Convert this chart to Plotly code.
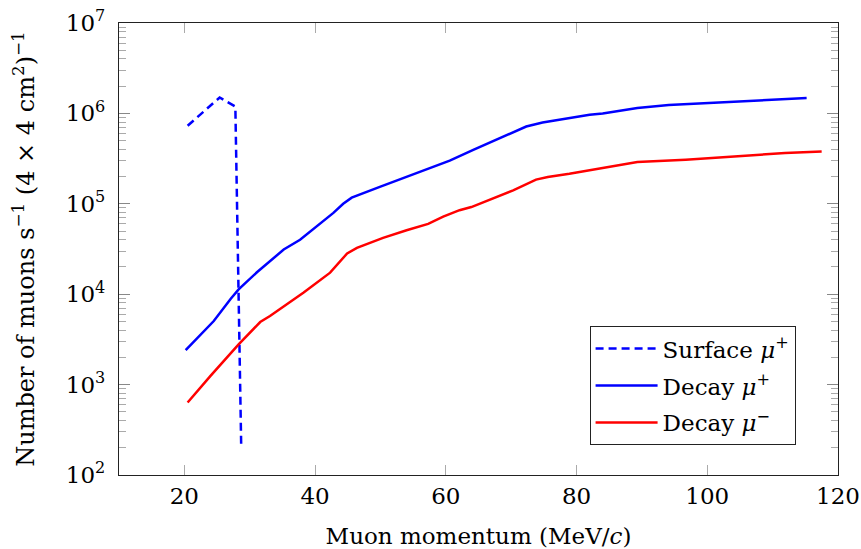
import plotly.graph_objects as go

# Surface muons (dashed)
surface_p = [20.5, 25.4, 27.8, 28.7]
surface_n = [7.3e5, 1.5e6, 1.19e6, 200]

# Decay mu+
decay_plus_p = [20.2, 23.0, 24.5, 27.1, 28.3, 31.1, 35.2, 37.7, 40.3, 42.8, 44.3, 45.6,
                49.9, 53.9, 57.0, 60.6, 64.2, 68.2, 72.3, 74.8, 82.0, 84.0, 89.3, 94.1,
                104.3, 115.2]
decay_plus_n = [2.4e3, 3.9e3, 5.05e3, 8.9e3, 1.13e4, 1.75e4, 3.12e4, 4.0e4, 5.65e4, 7.94e4,
                1.0e5, 1.17e5, 1.54e5, 1.98e5, 2.38e5, 3.0e5, 3.96e5, 5.33e5, 7.16e5,
                7.94e5, 9.66e5, 1.0e6, 1.15e6, 1.24e6, 1.34e6, 1.48e6]

# Decay mu-
decay_minus_p = [20.5, 24.0, 28.3, 31.6, 33.1, 38.2, 42.3, 44.9, 46.4, 50.4, 54.0, 57.3,
                 59.6, 62.1, 63.9, 66.7, 70.3, 73.8, 75.6, 78.9, 84.0, 89.3, 96.7, 104.3,
                 111.9, 117.5]
decay_minus_n = [634, 1.25e3, 2.79e3, 4.92e3, 5.73e3, 1.04e4, 1.73e4, 2.82e4, 3.26e4, 4.2e4,
                 5.1e4, 6.0e4, 7.2e4, 8.5e4, 9.2e4, 1.11e5, 1.41e5, 1.85e5, 1.98e5, 2.15e5,
                 2.51e5, 2.9e5, 3.07e5, 3.34e5, 3.65e5, 3.79e5]

x_ticks = [20, 40, 60, 80, 100, 120]
y_ticks = [1e2, 1e3, 1e4, 1e5, 1e6, 1e7]
y_ticktext = ["10<sup>%d</sup>" % k for k in range(2, 8)]
y_minor = [m * 10 ** k for k in range(2, 7) for m in range(2, 10)]

FONT = "DejaVu Serif"

fig = go.Figure()
fig.add_trace(go.Scatter(x=surface_p, y=surface_n, mode="lines", legendgroup="a",
                         name="Surface <i>μ</i><sup>+</sup>",
                         line=dict(color="#0000ff", width=2.5, dash="8px,5px")))
fig.add_trace(go.Scatter(x=decay_plus_p, y=decay_plus_n, mode="lines", legendgroup="b",
                         name="Decay <i>μ</i><sup>+</sup>",
                         line=dict(color="#0000ff", width=2.5)))
fig.add_trace(go.Scatter(x=decay_minus_p, y=decay_minus_n, mode="lines", legendgroup="c",
                         name="Decay <i>μ</i><sup>−</sup>",
                         line=dict(color="#ff0000", width=2.5)))

fig.update_layout(
    width=861, height=549,
    margin=dict(l=119, r=23, t=23, b=74, autoexpand=False),
    paper_bgcolor="white", plot_bgcolor="white",
    font=dict(family=FONT, size=23, color="black"),
    legend=dict(x=0.941, y=0.066, xanchor="right", yanchor="bottom",
                bgcolor="white", bordercolor="#222", borderwidth=1,
                font=dict(size=23), tracegroupgap=4, itemwidth=62),
)
fig.update_xaxes(
    range=[10, 120], tickvals=x_ticks, ticks="inside", ticklen=10,
    tickcolor="#aaa", tickwidth=1.2, showgrid=False, zeroline=False,
    showline=True, linecolor="#222", linewidth=1.2, mirror="allticks",
    tickfont=dict(size=23), automargin=False,
    title=dict(text="Muon momentum (MeV/<i>c</i>)", font=dict(size=23), standoff=20),
)
fig.update_yaxes(
    type="log", range=[2, 7], tickmode="array", tickvals=y_ticks, ticktext=y_ticktext,
    ticks="inside", ticklen=11, tickcolor="#888", tickwidth=1.2, ticklabelstandoff=8,
    minor=dict(tickmode="array", tickvals=y_minor, ticks="inside", ticklen=7,
               tickcolor="#aaa", tickwidth=1.2, showgrid=False),
    showgrid=False, zeroline=False, automargin=False,
    showline=True, linecolor="#222", linewidth=1.2, mirror="allticks",
    tickfont=dict(size=23),
    title=dict(text="Number of muons s<sup>−1</sup> (4 × 4 cm<sup>2</sup>)<sup>−1</sup>",
               font=dict(size=24), standoff=24),
)

# drop the browser's default body margin so the figure sits at the page corner
fig.write_html("out.html", config={"displayModeBar": False},
               post_script="document.body.style.margin='0';")
